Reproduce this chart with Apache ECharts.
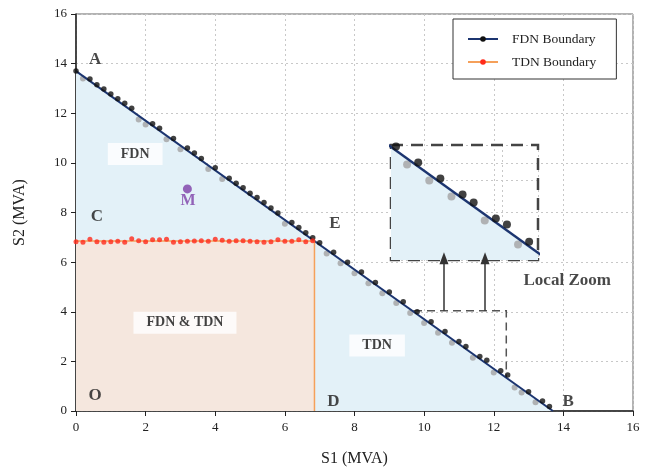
<!DOCTYPE html>
<html><head><meta charset="utf-8">
<script src="https://cdn.jsdelivr.net/npm/echarts@6/dist/echarts.min.js"></script>
<style>html,body{margin:0;padding:0;background:#fff}#c{width:653px;height:472px}</style>
</head><body><div id="c"></div>
<script>
// ---- data ----
const xTicks = [0,2,4,6,8,10,12,14,16];
const yTicks = [0,2,4,6,8,10,12,14,16];
const fdnBoundary = [[0,13.7],[13.7,0]];
const tdnBoundary = [[0,6.85],[6.85,6.85],[6.85,0]];
const fdnBlack = [[0,13.7],[0.4,13.38],[0.6,13.15],[0.8,12.98],[1.0,12.78],[1.2,12.58],[1.4,12.4],[1.6,12.2],
  [2.2,11.58],[2.4,11.4],[2.8,10.98],[3.2,10.6],[3.4,10.4],[3.6,10.18],[4.0,9.8],[4.4,9.38],[4.6,9.18],
  [4.8,9.0],[5.0,8.78],[5.2,8.6],[5.4,8.4],[5.6,8.18],[5.8,7.98],[6.2,7.6],[6.4,7.4],[6.6,7.18],[6.8,6.98],
  [7.0,6.78],[7.4,6.4],[7.8,6.0],[8.2,5.6],[8.6,5.18],[9.0,4.8],[9.4,4.4],[9.8,4.0],[10.2,3.6],[10.6,3.2],
  [11.0,2.8],[11.2,2.6],[11.6,2.2],[11.8,2.05],[12.2,1.62],[12.4,1.45],[13.0,0.78],[13.4,0.4],[13.6,0.18]];
const fdnGray = [[0.2,13.4],[1.8,11.75],[2.0,11.55],[2.6,10.95],[3.0,10.55],[3.8,9.75],[4.2,9.35],[6.0,7.55],
  [7.2,6.35],[7.6,5.95],[8.0,5.55],[8.4,5.15],[8.8,4.75],[9.2,4.35],[9.6,3.95],[10.0,3.55],[10.4,3.15],
  [10.8,2.75],[11.4,2.15],[12.0,1.55],[12.6,0.95],[12.8,0.75],[13.2,0.35]];
const tdnX = [0,0.2,0.4,0.6,0.8,1.0,1.2,1.4,1.6,1.8,2.0,2.2,2.4,2.6,2.8,3.0,3.2,3.4,3.6,3.8,4.0,4.2,4.4,4.6,4.8,5.0,5.2,5.4,5.6,5.8,6.0,6.2,6.4,6.6,6.8];
const tdnY = [6.82,6.80,6.92,6.82,6.80,6.82,6.84,6.80,6.94,6.86,6.82,6.90,6.90,6.92,6.80,6.82,6.84,6.85,6.86,6.84,6.92,6.88,6.84,6.86,6.86,6.84,6.82,6.80,6.82,6.90,6.84,6.84,6.90,6.82,6.86];
const pointM = [[3.2,8.95]];
const labelItems = [
  ['A',0.55,14.16],['C',0.6,7.84],['O',0.55,0.64],['D',7.39,0.36],['B',14.14,0.36],['E',7.44,7.56],['Local Zoom',14.11,5.24]
];
const boxLabels = [['FDN',1.7,10.36],['FDN & TDN',3.13,3.56],['TDN',8.65,2.64]];
const mLabel = [['M',3.22,8.48]];
const zoomBox = {x:[9.71,12.36], y:[1.16,4.04]};
const arrowX = [10.57,11.75];
const arrowTop = 6.16;

// ---- chart ----
const serif = 'Liberation Serif';
const chart = echarts.init(document.getElementById('c'));
const tdnPts = tdnX.map((x,i)=>[x,tdnY[i]]);
const dotted = {show:true, lineStyle:{color:'#c8c8c8', type:[2,3], width:1}};
const hatch = (c)=>({symbol:'rect', dashArrayX:[1,0], dashArrayY:[1,3], rotation:-Math.PI/4, color:c});

chart.setOption({
  animation:false,
  legend:{
    left:453, top:19, orient:'vertical', data:['FDN Boundary','TDN Boundary'],
    backgroundColor:'#fff', borderColor:'#333', borderWidth:1,
    padding:[13,20,10,14], itemWidth:30, itemHeight:7, itemGap:9,
    textStyle:{fontFamily:serif, fontSize:13.5, color:'#222', padding:[0,0,0,9]}
  },
  grid:[
    {left:76, right:20, top:14, bottom:58, show:true, borderColor:'#666', borderWidth:1},
    {left:391, top:145, width:147, height:115, show:true, backgroundColor:'#fff', borderWidth:0}
  ],
  xAxis:[
    {type:'value', min:0, max:16, interval:2, gridIndex:0,
     name:'S1 (MVA)', nameLocation:'middle', nameGap:40,
     nameTextStyle:{fontFamily:serif, fontSize:16, color:'#222'},
     axisLine:{show:true, lineStyle:{color:'#222', width:1.5}},
     axisTick:{show:true, length:5, lineStyle:{color:'#222'}},
     axisLabel:{fontFamily:serif, fontSize:13, color:'#222', margin:10},
     splitLine:dotted},
    {type:'value', min:zoomBox.x[0], max:zoomBox.x[1], gridIndex:1, interval:2,
     axisLine:{show:false}, axisTick:{show:false}, axisLabel:{show:false},
     splitLine:dotted}
  ],
  yAxis:[
    {type:'value', min:0, max:16, interval:2, gridIndex:0,
     name:'S2 (MVA)', nameLocation:'middle', nameGap:48,
     nameTextStyle:{fontFamily:serif, fontSize:16, color:'#222'},
     axisLine:{show:true, lineStyle:{color:'#222', width:1.5}},
     axisTick:{show:true, length:5, lineStyle:{color:'#222'}},
     axisLabel:{fontFamily:serif, fontSize:13, color:'#222', margin:9},
     splitLine:dotted},
    {type:'value', min:zoomBox.y[0], max:zoomBox.y[1], gridIndex:1, interval:2,
     axisLine:{show:false}, axisTick:{show:false}, axisLabel:{show:false},
     splitLine:dotted}
  ],
  series:[
    {name:'FDN Area', type:'line', z:1, data:fdnBoundary, showSymbol:false, symbol:'none', silent:true,
     lineStyle:{width:0}, areaStyle:{color:'#e3f1f8', opacity:1, decal:hatch('rgba(255,255,255,0.45)')}},
    {name:'TDN Area', type:'line', z:1, data:tdnBoundary.slice(0,2), showSymbol:false, symbol:'none', silent:true,
     lineStyle:{width:0}, areaStyle:{color:'#f5e7de', opacity:1, decal:hatch('rgba(255,255,255,0.35)')}},
    {name:'FDN Gray', type:'scatter', z:2, data:fdnGray, symbolSize:6, itemStyle:{color:'#a3a3a3'}, silent:true},
    {name:'FDN Boundary', type:'line', z:3, data:fdnBoundary, showSymbol:false, symbol:'circle', symbolSize:6,
     lineStyle:{color:'#1c3570', width:2}, itemStyle:{color:'#111'}},
    {name:'FDN Black', type:'scatter', z:4, data:fdnBlack, symbolSize:5.5, itemStyle:{color:'#111'}, silent:true},
    {name:'TDN Boundary', type:'line', z:3, data:tdnBoundary, showSymbol:false, symbol:'circle', symbolSize:6,
     lineStyle:{color:'#f5a05a', width:1.5}, itemStyle:{color:'#ff2a1a'}},
    {name:'TDN Points', type:'scatter', z:4, data:tdnPts, symbolSize:5, itemStyle:{color:'#ff2a1a'}, silent:true},
    {name:'M', type:'scatter', z:4, data:pointM, symbolSize:9, itemStyle:{color:'#7d3fa8'}, silent:true},
    {name:'Annotations', type:'scatter', z:5, symbolSize:0, silent:true,
     data:labelItems.map(d=>({name:d[0], value:[d[1],d[2]]})),
     label:{show:true, position:'inside', formatter:'{b}', fontFamily:serif, fontWeight:'bold', fontSize:17, color:'#1a1a1a'},
     markArea:{silent:true,
       itemStyle:{color:'rgba(0,0,0,0)', borderColor:'#555', borderWidth:1.5, borderType:[8,5]},
       data:[[{coord:[zoomBox.x[0],zoomBox.y[1]]},{coord:[zoomBox.x[1],zoomBox.y[0]]}]]},
     markLine:{silent:true, symbol:['none','triangle'], symbolSize:[9,12],
       lineStyle:{color:'#333', width:1.5, type:'solid'}, label:{show:false},
       data:arrowX.map(x=>[{coord:[x,zoomBox.y[1]]},{coord:[x,arrowTop]}])}
    },
    {name:'BoxLabels', type:'scatter', z:5, symbolSize:0, silent:true,
     data:boxLabels.map(d=>({name:d[0], value:[d[1],d[2]]})),
     label:{show:true, position:'inside', formatter:'{b}', fontFamily:serif, fontWeight:'bold', fontSize:14, color:'#111',
       backgroundColor:'#fff', padding:[4,13,4,13]}},
    {name:'MLabel', type:'scatter', z:5, symbolSize:0, silent:true,
     data:mLabel.map(d=>({name:d[0], value:[d[1],d[2]]})),
     label:{show:true, position:'inside', formatter:'{b}', fontFamily:serif, fontWeight:'bold', fontSize:16, color:'#7d3fa8'}},
    // inset
    {name:'Inset Area', type:'line', z:1, xAxisIndex:1, yAxisIndex:1, data:fdnBoundary, showSymbol:false, symbol:'none', silent:true,
     lineStyle:{width:0}, areaStyle:{color:'#e3f1f8', opacity:1, decal:hatch('rgba(255,255,255,0.45)')}},
    {name:'Inset Gray', type:'scatter', z:2, xAxisIndex:1, yAxisIndex:1, data:fdnGray, symbolSize:8, itemStyle:{color:'#a3a3a3'}, silent:true},
    {name:'Inset Line', type:'line', z:3, xAxisIndex:1, yAxisIndex:1, data:fdnBoundary, showSymbol:false, symbol:'none', silent:true,
     lineStyle:{color:'#1c3570', width:2.5}},
    {name:'Inset Black', type:'scatter', z:4, xAxisIndex:1, yAxisIndex:1, data:fdnBlack, symbolSize:8, itemStyle:{color:'#111'}, silent:true,
     markArea:{silent:true,
       itemStyle:{color:'rgba(0,0,0,0)', borderColor:'#444', borderWidth:2.5, borderType:[12,8]},
       data:[[{coord:[zoomBox.x[0],zoomBox.y[1]]},{coord:[zoomBox.x[1],zoomBox.y[0]]}]]}}
  ]
});
</script></body></html>
